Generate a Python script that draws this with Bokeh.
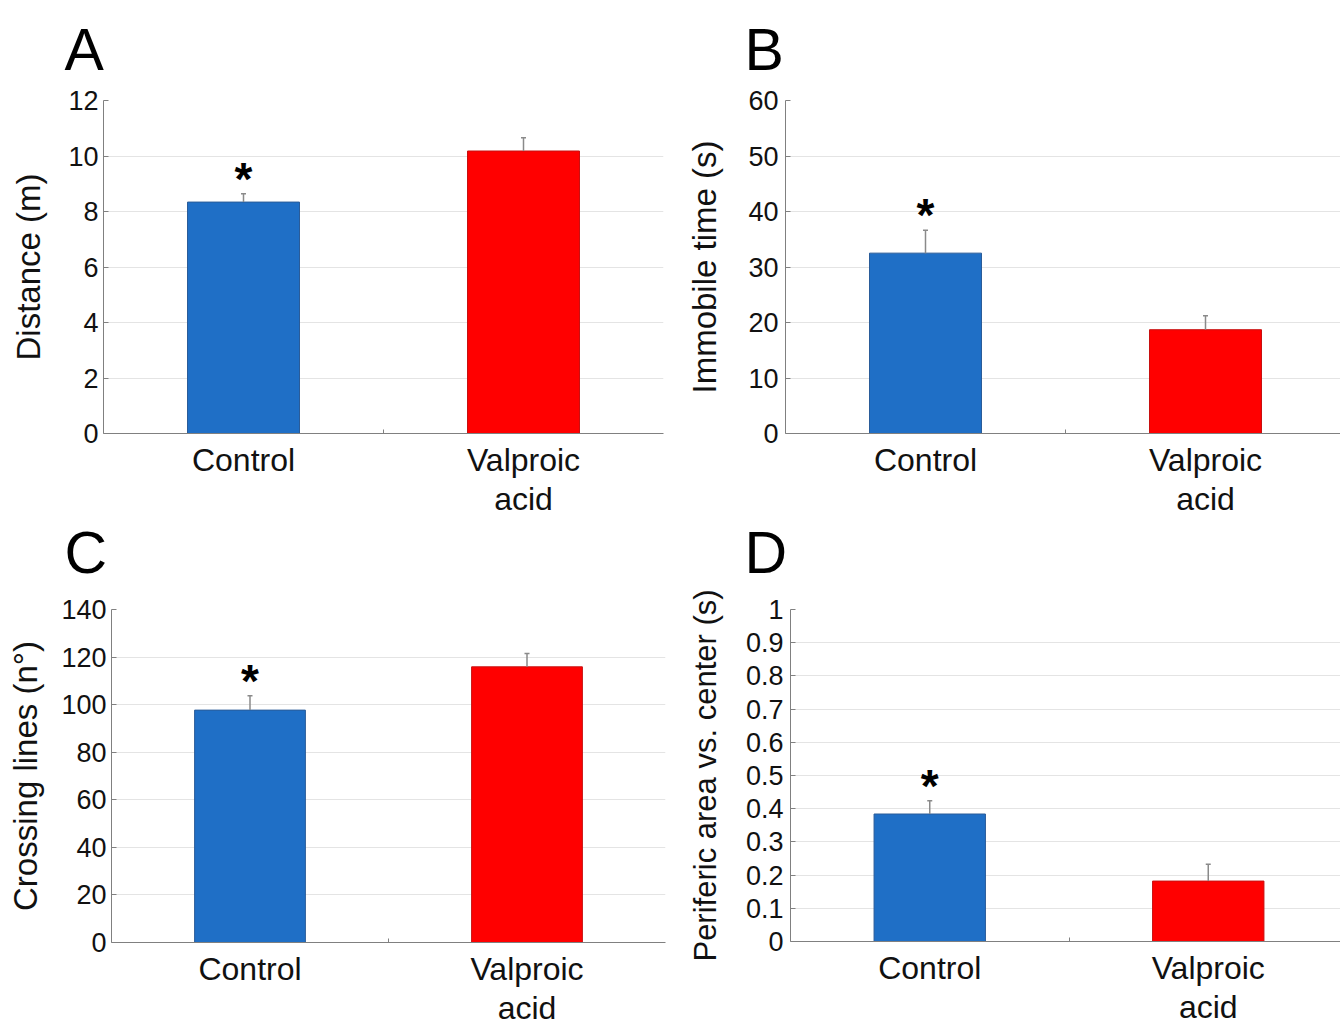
from bokeh.plotting import figure
from bokeh.layouts import row, column
from bokeh.models import (Range1d, FixedTicker, PrintfTickFormatter, ColumnDataSource, LinearAxis, Title)
from bokeh.embed import file_html
from bokeh.resources import INLINE
from bokeh.core.properties import value

# ---------------- data ----------------
categories = ["Control", "Valproic acid"]
category_lines = [["Control"], ["Valproic", "acid"]]   # tick label text, one list per category
bar_colors = ["#1F6FC6", "#FF0000"]
bar_edges = ["#2A5C99", "#C81010"]
significance = ["*", ""]

distance_mean = [8.34, 10.18]
distance_sem = [0.30, 0.48]

immobile_mean = [32.5, 18.7]
immobile_sem = [4.1, 2.5]

crossing_mean = [97.7, 115.9]
crossing_sem = [6.0, 5.6]

periferic_mean = [0.384, 0.182]
periferic_sem = [0.040, 0.051]

FONT = "Liberation Sans"
AXIS_GRAY = "#808080"
TEXT = "#111111"
LETTER_SIZE = "59px"


def make_panel(letter, ylabel, ymax, step, means, sems,
               frame_w, frame_h, left, right, top, bottom,
               tick_standoff, label_standoff, label_size, title_offset, title_standoff):
    n_cat = len(categories)
    positions = [i + 0.5 for i in range(n_cat)]
    p = figure(x_range=Range1d(0, n_cat), y_range=Range1d(0, ymax),
               frame_width=frame_w, frame_height=frame_h,
               min_border_left=left, min_border_right=right,
               min_border_top=top, min_border_bottom=bottom,
               output_backend="svg", toolbar_location=None,
               background_fill_color="white", border_fill_color="white")
    p.outline_line_color = None

    tops = [m + s for m, s in zip(means, sems)]
    src = ColumnDataSource(dict(x=positions, cat=categories, mean=means, top=tops,
                                color=bar_colors, edge=bar_edges, star=significance))
    p.vbar(x="x", top="mean", width=0.4, bottom=0, source=src,
           fill_color="color", line_color="edge", line_width=1)
    p.segment(x0="x", y0="mean", x1="x", y1="top", source=src,
              line_color="#8a8a8a", line_width=1.5)
    p.scatter(x="x", y="top", source=src, marker="dash", size=5,
              line_color="#8a8a8a", line_width=1.5)
    p.text(x="x", y="top", text="star", source=src,
           text_font=value(FONT), text_font_size="46px", text_font_style="bold",
           text_align="center", text_baseline="alphabetic", y_offset=-15,
           text_color="black")

    # grid
    p.xgrid.grid_line_color = None
    p.ygrid.grid_line_color = "#e4e4e4"
    p.ygrid.grid_line_width = 1.2

    # y axis
    n = int(round(ymax / step))
    p.yaxis.ticker = FixedTicker(ticks=[round(i * step, 6) for i in range(n + 1)])
    p.yaxis.formatter = PrintfTickFormatter(format="%g")
    p.yaxis.minor_tick_line_color = None
    p.yaxis.major_tick_in = 5
    p.yaxis.major_tick_out = 0
    p.yaxis.major_tick_line_color = AXIS_GRAY
    p.yaxis.axis_line_color = AXIS_GRAY
    p.yaxis.major_label_text_font = FONT
    p.yaxis.major_label_text_font_size = "27px"
    p.yaxis.major_label_text_color = TEXT
    p.yaxis.major_label_standoff = tick_standoff
    p.yaxis.axis_label = ylabel
    p.yaxis.axis_label_text_font = FONT
    p.yaxis.axis_label_text_font_size = label_size
    p.yaxis.axis_label_text_font_style = "normal"
    p.yaxis.axis_label_text_color = TEXT
    p.yaxis.axis_label_standoff = label_standoff

    # x axis, first line of the category labels (+ small separator tick between groups)
    boundaries = [float(i) for i in range(1, n_cat)]
    p.xaxis.ticker = FixedTicker(ticks=positions, minor_ticks=boundaries)
    p.xaxis.major_label_overrides = {pos: lines[0] for pos, lines in zip(positions, category_lines)}
    p.xaxis.major_tick_line_color = None
    p.xaxis.major_tick_in = 0
    p.xaxis.major_tick_out = 0
    p.xaxis.minor_tick_line_color = AXIS_GRAY
    p.xaxis.minor_tick_in = 4
    p.xaxis.minor_tick_out = 0
    p.xaxis.axis_line_color = AXIS_GRAY
    p.xaxis.major_label_text_font = FONT
    p.xaxis.major_label_text_font_size = "32px"
    p.xaxis.major_label_text_color = TEXT
    p.xaxis.major_label_standoff = 8

    # second line of the category labels
    ax2 = LinearAxis(ticker=FixedTicker(ticks=positions, minor_ticks=[]),
                     major_label_overrides={pos: (lines[1] if len(lines) > 1 else " ")
                                            for pos, lines in zip(positions, category_lines)},
                     axis_line_color=None, major_tick_line_color=None,
                     minor_tick_line_color=None, major_tick_in=0, major_tick_out=0,
                     minor_tick_in=0, minor_tick_out=0,
                     major_label_text_font=FONT, major_label_text_font_size="32px",
                     major_label_text_color=TEXT, major_label_standoff=0)
    p.add_layout(ax2, "below")

    # panel letter
    if letter:
        p.title.text = letter
        p.title.text_font = FONT
        p.title.text_font_size = LETTER_SIZE
        p.title.text_font_style = "normal"
        p.title.text_color = "black"
        p.title.align = "left"
        p.title.vertical_align = "top"
        p.title.offset = title_offset
        p.title.standoff = title_standoff
    else:
        p.title.visible = False
    return p


def add_letter_below(p, letter, offset, standoff):
    # letter of the panel underneath, placed in the bottom margin of the upper panel
    p.add_layout(Title(text=letter, text_font=FONT, text_font_size=LETTER_SIZE,
                       text_font_style="normal", text_color="black", align="left",
                       vertical_align="top", offset=offset, standoff=standoff), "below")


pA = make_panel("A", "Distance (m)", 12, 2, distance_mean, distance_sem,
                560, 333, 103, 7, 100, 150, 5, 18, "33px", -39, 32)
pB = make_panel("B", "Immobile time (s)", 60, 10, immobile_mean, immobile_sem,
                560, 333, 115, 0, 100, 150, 7, 22, "33px", -41, 32)
pC = make_panel(None, "Crossing lines (n°)", 140, 20, crossing_mean, crossing_sem,
                554, 333, 111, 5, 20, 80, 5, 14, "33px", 0, 0)
pD = make_panel(None, "Periferic area vs. center (s)", 1, 0.1, periferic_mean, periferic_sem,
                557, 332, 120, 0, 22, 80, 7, 20, "31px", 0, 0)

add_letter_below(pA, "C", -39, 0)
add_letter_below(pB, "D", -41, 0)

layout = column(row(pA, pB), row(pC, pD))
open("out.html", "w").write(file_html(layout, INLINE))
